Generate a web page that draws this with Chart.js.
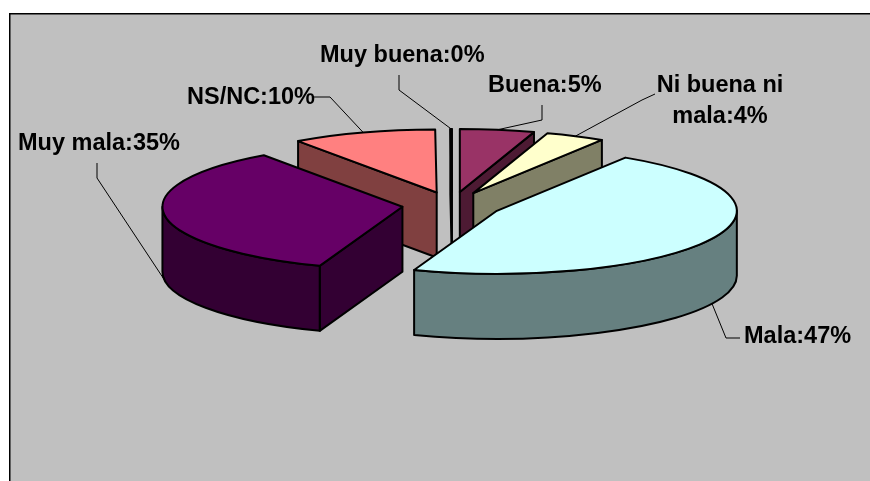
<!DOCTYPE html>
<html>
<head>
<meta charset="utf-8">
<style>
  html, body { margin: 0; padding: 0; background: #fff; overflow: hidden; }
  canvas { display: block; }
</style>
<script src="https://cdn.jsdelivr.net/npm/chart.js@4/dist/chart.umd.min.js"></script>
</head>
<body>
<canvas id="pie" width="870" height="481"></canvas>
<script>
// Data
const categories = ['Muy buena', 'Buena', 'Ni buena ni mala', 'Mala', 'Muy mala', 'NS/NC'];
const shares = [0.1, 5, 4, 46.6, 34.6, 9.7];

// Colours
const topColors = ['#9999ff', '#993366', '#ffffcc', '#ccffff', '#660066', '#ff8080'];
const sideColors = ['#4c4c80', '#4d1a33', '#808066', '#668080', '#330033', '#804040'];

// Look of the fake 3D
const pieCenter = { x: 452, y: 205 };
const rimX = 240;
const rimY = 63;
const depth = 65;
const explode = 50;
const drawOrder = [5, 0, 1, 2, 4, 3]; // back to front

// Where each label sits: text x, baseline y, leader knee and end
const labelSpots = [
  { x: 320, y: 62, wall: false, leader: [[399, 75], [399, 90]] },
  { x: 488, y: 92, wall: false, leader: [[542, 105], [542, 120]] },
  { x: 720, y: 92, wrap: 135, center: true, wall: false, leader: [[655, 94], [642, 100]] },
  { x: 744, y: 343, wall: true, leader: [[740, 338], [726, 338]] },
  { x: 18, y: 150, wall: true, leader: [[97, 163], [97, 178]] },
  { x: 187, y: 104, wall: false, leader: [[313, 97], [330, 97]] }
];

function sliceGeometry(arc) {
  const p = arc.getProps(['x', 'y', 'startAngle', 'endAngle', 'outerRadius'], true);
  const mid = (p.startAngle + p.endAngle) / 2;
  return {
    p, mid,
    sx: rimX / p.outerRadius,
    sy: rimY / p.outerRadius,
    x: pieCenter.x + Math.cos(mid) * explode,
    y: pieCenter.y + Math.sin(mid) * explode * rimY / rimX
  };
}

function rimPoint(g, angle, drop) {
  return [g.x + Math.cos(angle) * rimX, g.y + Math.sin(angle) * rimY + drop];
}

function paintShape(ctx, fill) {
  ctx.fillStyle = fill;
  ctx.fill();
  ctx.stroke();
}

function drawCutFace(ctx, g, angle, fill) {
  const c = rimPoint(g, angle, 0);
  ctx.beginPath();
  ctx.moveTo(g.x, g.y);
  ctx.lineTo(c[0], c[1]);
  ctx.lineTo(c[0], c[1] + depth);
  ctx.lineTo(g.x, g.y + depth);
  ctx.closePath();
  paintShape(ctx, fill);
}

function drawSlice(ctx, arc, i) {
  const g = sliceGeometry(arc);
  const s = g.p.startAngle;
  const e = g.p.endAngle;
  ctx.lineWidth = 2;
  ctx.strokeStyle = '#000';
  ctx.lineJoin = 'round';

  // walls first
  if (Math.cos(s) < 0) drawCutFace(ctx, g, s, sideColors[i]);
  if (Math.cos(e) > 0) drawCutFace(ctx, g, e, sideColors[i]);
  const a0 = Math.max(s, 0);
  const a1 = Math.min(e, Math.PI);
  if (a1 > a0) {
    ctx.beginPath();
    ctx.ellipse(g.x, g.y, rimX, rimY, 0, a0, a1);
    ctx.ellipse(g.x, g.y + depth, rimX, rimY, 0, a1, a0, true);
    ctx.closePath();
    paintShape(ctx, sideColors[i]);
  }

  // top face comes from the library's own arc
  ctx.save();
  ctx.translate(g.x, g.y);
  ctx.scale(g.sx, g.sy);
  ctx.translate(-g.p.x, -g.p.y);
  arc.draw(ctx);
  ctx.restore();

  ctx.beginPath();
  ctx.moveTo(g.x, g.y);
  ctx.ellipse(g.x, g.y, rimX, rimY, 0, s, e);
  ctx.closePath();
  ctx.stroke();
}

function drawLabel(ctx, arc, i) {
  const g = sliceGeometry(arc);
  const spot = labelSpots[i];
  const end = rimPoint(g, g.mid, spot.wall ? depth : 0);

  ctx.lineWidth = 1;
  ctx.strokeStyle = '#000';
  ctx.beginPath();
  ctx.moveTo(spot.leader[0][0], spot.leader[0][1]);
  ctx.lineTo(spot.leader[1][0], spot.leader[1][1]);
  ctx.lineTo(end[0], end[1]);
  ctx.stroke();

  ctx.fillStyle = '#000';
  ctx.font = 'bold 23.5px "Liberation Sans", Arial, sans-serif';
  ctx.textBaseline = 'alphabetic';
  ctx.textAlign = spot.center ? 'center' : 'left';
  const text = categories[i] + ':' + Math.round(shares[i]) + '%';
  const lines = [];
  let line = '';
  text.split(' ').forEach(word => {
    const next = line ? line + ' ' + word : word;
    if (spot.wrap && ctx.measureText(next).width > spot.wrap) {
      lines.push(line);
      line = word;
    } else {
      line = next;
    }
  });
  lines.push(line);
  lines.forEach((l, n) => ctx.fillText(l, spot.x, spot.y + n * 31));
}

const piePlugin = {
  id: 'fake3d',
  beforeDraw(chart) {
    const ctx = chart.ctx;
    ctx.save();
    ctx.fillStyle = '#c0c0c0';
    ctx.fillRect(9, 14, 861, 467);
    ctx.fillStyle = '#000';
    ctx.fillRect(9, 13, 861, 1.5);
    ctx.fillRect(9, 13, 1.5, 468);
    ctx.restore();
  },
  beforeDatasetDraw(chart) {
    const ctx = chart.ctx;
    const arcs = chart.getDatasetMeta(0).data;
    ctx.save();
    drawOrder.forEach(i => drawSlice(ctx, arcs[i], i));
    ctx.restore();
    return false; // slices are already painted in depth order
  },
  afterDatasetsDraw(chart) {
    const ctx = chart.ctx;
    const arcs = chart.getDatasetMeta(0).data;
    ctx.save();
    arcs.forEach((arc, i) => drawLabel(ctx, arc, i));
    ctx.restore();
  }
};

new Chart(document.getElementById('pie').getContext('2d'), {
  type: 'pie',
  data: {
    labels: categories,
    datasets: [{
      data: shares,
      backgroundColor: topColors,
      borderWidth: 0
    }]
  },
  options: {
    responsive: false,
    animation: false,
    events: [],
    rotation: -0.36,
    plugins: { legend: { display: false }, tooltip: { enabled: false } }
  },
  plugins: [piePlugin]
});
</script>
</body>
</html>
